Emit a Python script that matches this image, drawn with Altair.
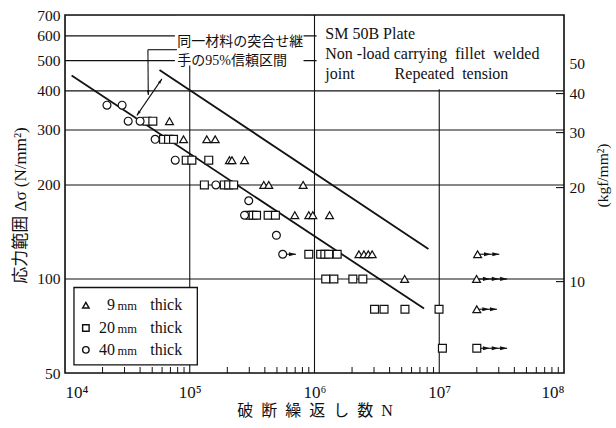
import altair as alt
import pandas as pd

# ---- Fatigue test results: stress range (N/mm^2) vs. cycles to failure N ----
# 9 mm plates (triangles)
tri_N = [6.88e4, 8.92e4, 1.37e5, 1.60e5, 2.08e5, 2.18e5, 2.75e5, 3.92e5, 4.30e5, 8.11e5,
         6.95e5, 9.0e5, 9.69e5, 1.32e6, 2.27e6, 2.49e6, 2.70e6, 2.90e6, 2.03e7,
         5.28e6, 1.99e7, 2.0e7]
tri_S = [320, 280, 280, 280, 240, 240, 240, 200, 200, 200,
         160, 160, 160, 160, 120, 120, 120, 120, 120,
         100, 100, 80]
# 20 mm plates (squares)
sq_N = [4.53e4, 5.06e4, 6.16e4, 6.76e4, 7.41e4, 9.37e4, 1.04e5, 1.42e5,
        1.31e5, 1.89e5, 2.05e5, 2.25e5, 3.03e5, 3.22e5, 3.43e5, 4.25e5, 4.86e5,
        9.0e5, 1.12e6, 1.21e6, 1.30e6, 1.52e6, 1.23e6, 1.43e6, 2.03e6, 2.44e6,
        3.03e6, 3.61e6, 5.31e6, 9.96e6, 1.06e7, 2.0e7]
sq_S = [320, 320, 280, 280, 280, 240, 240, 240,
        200, 200, 200, 200, 160, 160, 160, 160, 160,
        120, 120, 120, 120, 120, 100, 100, 100, 100,
        80, 80, 80, 80, 60, 60]
# 40 mm plates (circles)
circ_N = [2.17e4, 2.87e4, 3.21e4, 4.0e4, 5.28e4, 7.65e4, 1.62e5, 2.97e5, 2.75e5, 4.95e5, 5.56e5]
circ_S = [360, 360, 320, 320, 280, 240, 200, 178, 160, 138, 120]

# Run-outs (no failure): arrow from the last count to the right
run_S = [120, 100, 80, 60, 120]
run_N = [2.03e7, 1.99e7, 2.0e7, 2.0e7, 5.56e5]
run_end = [3.03e7, 3.5e7, 2.9e7, 3.5e7, 7.1e5]
head_S = [120, 120, 100, 100, 100, 80, 80, 60, 60, 60, 120]
head_N = [2.6e7, 3.03e7, 2.55e7, 3.0e7, 3.5e7, 2.52e7, 2.9e7, 2.55e7, 3.0e7, 3.5e7, 7.1e5]

# 95 % confidence band of butt-welded joints of the same steel
band_id = ["lower", "lower", "upper", "upper"]
band_N = [1.13e4, 7.55e6, 5.72e4, 8.19e6]
band_S = [448, 80.4, 467, 124.7]

# Leader lines of the band label (start / end points)
lead_N0 = [7.89e4, 4.62e4, 3.77e4]
lead_N1 = [4.62e4, 4.65e4, 5.98e4]
lead_S0 = [542, 542, 334]
lead_S1 = [542, 388, 437]
tip_N = [4.65e4, 3.77e4, 5.98e4]
tip_S = [388, 334, 437]
tip_angle = [180, 214, 34]

# Key: plate thickness, marker position and text columns
key_t = ["9", "20", "40"]
key_S = [82.4, 69.7, 59.3]
key_sym_N = 1.47e4
key_num_N = 2.52e4
key_mm_N = 2.64e4
key_word_N = 4.82e4
key_box_N = [1.18e4, 1.15e5]
key_box_S = [53.1, 93.9]

# Axis ticks and grid
y_labels = [50, 100, 200, 300, 400, 500, 600, 700]
y_grid = [100, 200, 300, 400, 500, 600]
x_labels = [1e4, 1e5, 1e6, 1e7, 1e8]
x_grid = [1e5, 1e6, 1e7]
x_minor = [m * 10 ** k for k in range(4, 8) for m in range(2, 10)]
kgf_labels = [10, 20, 30, 40, 50]
kgf_ticks = [10, 20, 30, 40]
KGF = 9.80665

# Text blocks
NB = "\u00a0"
info_lines = ["SM 50B Plate",
              f"Non{NB}-load carrying{NB}{NB}fillet{NB}{NB}welded",
              f"joint{NB * 10}Repeated{NB}{NB}tension"]
info_N = [1.22e6, 1.22e6, 1.22e6]
info_S = [607, 525, 453]
note_lines = ["同一材料の突合せ継", "手の95%信頼区間"]
note_N = [7.95e4, 7.95e4]
note_S = [572, 500]

# White boxes behind the text blocks (N from, N to, S from, S to)
box_N0 = [7.6e4, 1.04e6]
box_N1 = [8.17e5, 1.0e8]
box_S0 = [482, 405]
box_S1 = [700, 700]

# ---------------------------------------------------------------------------
W, H = 499, 358
SERIF = "'Liberation Serif', 'DejaVu Serif', serif"
MIX = "'Liberation Serif', 'Noto Sans CJK JP', serif"
INK = "#111"

xs = alt.Scale(type="log", domain=[1e4, 1e8], nice=False)
ys = alt.Scale(type="log", domain=[50, 700], nice=False)
shape_scale = alt.Scale(domain=["9", "20", "40"], range=["triangle-up", "square", "circle"])

x_axis = alt.Axis(
    values=x_labels,
    labelExpr="'10' + ['⁴','⁵','⁶','⁷','⁸'][round(log(datum.value)/LN10) - 4]",
    tickSize=0, domain=False, grid=False,
    labelFont=SERIF, labelFontSize=17, labelPadding=11, labelColor=INK,
    title=f"破{NB * 2}断{NB * 2}繰{NB * 2}返{NB * 2}し{NB * 2}数{NB * 2}N",
    titleFont=MIX, titleFontSize=16,
    titleFontWeight="normal", titleColor=INK, titleY=37, titleBaseline="middle",
)
y_axis = alt.Axis(
    values=y_labels, tickSize=0, domain=False, grid=False,
    labelFont=SERIF, labelFontSize=15.5, labelPadding=5, labelColor=INK,
    title="応力範囲 Δσ (N/mm²)", titleFont=MIX, titleFontSize=17,
    titleFontWeight="normal", titleColor=INK, titleX=-45, titleY=190,
    titleAngle=270, titleAlign="center", titleBaseline="middle",
)


def X(field):
    return alt.X(field, type="quantitative", scale=xs, axis=x_axis)


def Y(field):
    return alt.Y(field, type="quantitative", scale=ys, axis=y_axis)


pts = pd.DataFrame({
    "N": tri_N + sq_N + circ_N,
    "S": tri_S + sq_S + circ_S,
    "t": ["9"] * len(tri_N) + ["20"] * len(sq_N) + ["40"] * len(circ_N),
})
key = pd.DataFrame({
    "t": key_t, "S": key_S,
    "Nsym": [key_sym_N] * 3, "Nnum": [key_num_N] * 3,
    "Nmm": [key_mm_N] * 3, "Nword": [key_word_N] * 3,
    "mm": ["mm"] * 3, "word": ["thick"] * 3,
})

hgrid = alt.Chart(pd.DataFrame({"S": y_grid})).mark_rule(
    color=INK, strokeWidth=1.1).encode(y=Y("S"))
vgrid = alt.Chart(pd.DataFrame({"N": x_grid})).mark_rule(
    color=INK, strokeWidth=1.1).encode(x=X("N"))

boxes = alt.Chart(pd.DataFrame({"n0": box_N0, "n1": box_N1, "s0": box_S0, "s1": box_S1})).mark_rect(
    fill="white", stroke="white", strokeWidth=0).encode(
    x=X("n0"), x2="n1", y=Y("s0"), y2="s1")

minor = alt.Chart(pd.DataFrame({"N": x_minor})).mark_rule(
    color=INK, strokeWidth=1).encode(x=X("N"), y=alt.value(H), y2=alt.value(H - 6))

bands = alt.Chart(pd.DataFrame({"band": band_id, "N": band_N, "S": band_S})).mark_line(
    color=INK, strokeWidth=1.8).encode(x=X("N"), y=Y("S"), detail="band:N")

runs = alt.Chart(pd.DataFrame({"N": run_N, "N1": run_end, "S": run_S})).mark_rule(
    color=INK, strokeWidth=1.1).encode(x=X("N"), x2="N1", y=Y("S"))
run_heads = alt.Chart(pd.DataFrame({"N": head_N, "S": head_S})).mark_point(
    shape="M0,0L-1,-0.3L-1,0.3Z", filled=True, color=INK, size=196, opacity=1).encode(
    x=X("N"), y=Y("S"))

leaders = alt.Chart(pd.DataFrame({"n0": lead_N0, "n1": lead_N1, "s0": lead_S0, "s1": lead_S1})).mark_rule(
    color=INK, strokeWidth=1.1).encode(x=X("n0"), x2="n1", y=Y("s0"), y2="s1")
tips = alt.Chart(pd.DataFrame({"N": tip_N, "S": tip_S, "a": tip_angle})).mark_point(
    shape="M0,0L-0.28,1L0.28,1Z", filled=True, color=INK, size=100, opacity=1).encode(
    x=X("N"), y=Y("S"), angle=alt.Angle("a:Q", scale=None))

points = alt.Chart(pts).mark_point(
    filled=True, fill="white", stroke=INK, strokeWidth=1.2, size=62, opacity=1).encode(
    x=X("N"), y=Y("S"),
    shape=alt.Shape("t:N", scale=shape_scale, legend=None),
)

# Key box with marker samples
key_box = alt.Chart(pd.DataFrame({"n0": [key_box_N[0]], "n1": [key_box_N[1]],
                                  "s0": [key_box_S[0]], "s1": [key_box_S[1]]})).mark_rect(
    fill="white", stroke=INK, strokeWidth=1.3).encode(
    x=X("n0"), x2="n1", y=Y("s0"), y2="s1")
key_sym = alt.Chart(key).mark_point(
    filled=True, fill="white", stroke=INK, strokeWidth=1.4, size=42, opacity=1).encode(
    x=X("Nsym"), y=Y("S"), shape=alt.Shape("t:N", scale=shape_scale, legend=None))
key_num = alt.Chart(key).mark_text(
    align="right", baseline="middle", font=SERIF, fontSize=16, color=INK).encode(
    x=X("Nnum"), y=Y("S"), text="t:N")
key_mm = alt.Chart(key).mark_text(
    align="left", baseline="middle", font=SERIF, fontSize=12.5, color=INK, dy=1).encode(
    x=X("Nmm"), y=Y("S"), text="mm:N")
key_word = alt.Chart(key).mark_text(
    align="left", baseline="middle", font=SERIF, fontSize=16, color=INK).encode(
    x=X("Nword"), y=Y("S"), text="word:N")

info = alt.Chart(pd.DataFrame({"N": info_N, "S": info_S, "txt": info_lines})).mark_text(
    align="left", baseline="middle", font=SERIF, fontSize=16, color=INK).encode(
    x=X("N"), y=Y("S"), text="txt:N")
note = alt.Chart(pd.DataFrame({"N": note_N, "S": note_S, "txt": note_lines})).mark_text(
    align="left", baseline="middle", font=MIX, fontSize=14, color=INK).encode(
    x=X("N"), y=Y("S"), text="txt:N")

frame = alt.Chart(pd.DataFrame({"n0": [1e4], "n1": [1e8], "s0": [50], "s1": [700]})).mark_rect(
    fillOpacity=0, stroke=INK, strokeWidth=1.6).encode(
    x=X("n0"), x2="n1", y=Y("s0"), y2="s1")

main = alt.layer(hgrid, vgrid, boxes, minor, bands, runs, run_heads, leaders, tips,
                 points, key_box, key_sym, key_num, key_mm, key_word, info, note, frame)

# Secondary scale in kgf/mm^2 on the right-hand side
right = alt.Chart(pd.DataFrame({"kgf": kgf_ticks})).mark_rule(
    color=INK, strokeWidth=1.1).encode(
    y=alt.Y("kgf:Q", scale=alt.Scale(type="log", domain=[50 / KGF, 700 / KGF], nice=False),
            axis=alt.Axis(orient="right", values=kgf_labels, tickSize=0, domain=False,
                          grid=False, labelFont=SERIF, labelFontSize=15.5, labelPadding=5,
                          labelColor=INK, title="(kgf/mm²)", titleFont=SERIF,
                          titleFontSize=15.5, titleFontWeight="normal", titleColor=INK,
                          titleAngle=270, titleX=38, titleY=160, titleAlign="center",
                          titleBaseline="middle")),
    x=alt.value(W - 8), x2=alt.value(W),
)

chart = alt.layer(main, right).resolve_scale(y="independent").properties(
    width=W, height=H,
    autosize=alt.AutoSizeParams(type="none"),
    padding={"left": 65, "top": 15, "right": 52, "bottom": 55},
).configure_view(stroke=None).configure(background="white")

chart.save("out.html", embed_options={"renderer": "svg", "actions": False})
